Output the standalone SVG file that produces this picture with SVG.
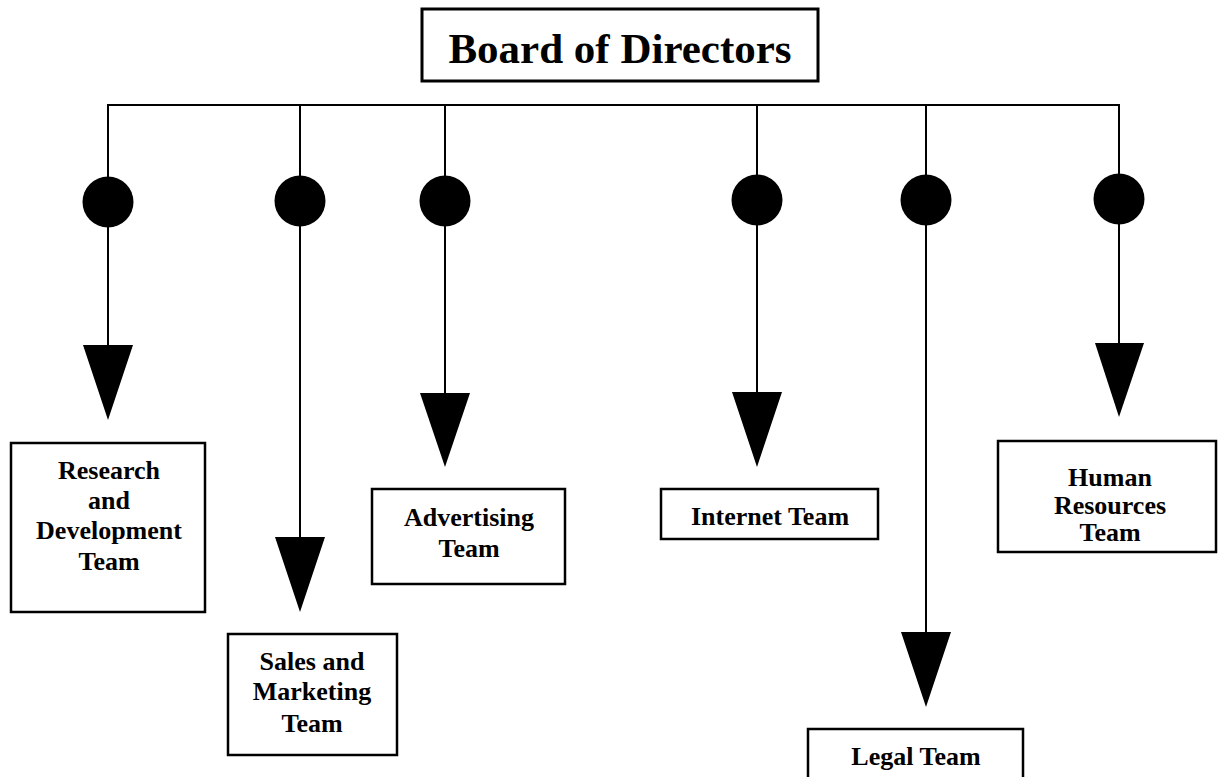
<svg xmlns="http://www.w3.org/2000/svg" width="1222" height="777" viewBox="0 0 1222 777">
<defs>
<style>
.box{fill:#fff;stroke:#000;stroke-width:2.5}
.lbl{font-family:"Liberation Serif","Times New Roman",serif;font-weight:bold;font-size:26px;fill:#000;text-anchor:middle}
.title{font-family:"Liberation Serif","Times New Roman",serif;font-weight:bold;font-size:43px;fill:#000;text-anchor:middle}
.ln{stroke:#000;stroke-width:2;fill:none}
.dot{fill:#000}
.tri{fill:#000}
</style>
</defs>
<rect width="1222" height="777" fill="#fff"/>
<g id="connectors">
<line class="ln" x1="107" y1="105" x2="1120" y2="105"/>
<line class="ln" x1="108" y1="105" x2="108" y2="346"/>
<line class="ln" x1="300" y1="105" x2="300" y2="538"/>
<line class="ln" x1="445" y1="105" x2="445" y2="394"/>
<line class="ln" x1="757" y1="105" x2="757" y2="393"/>
<line class="ln" x1="926" y1="105" x2="926" y2="633"/>
<line class="ln" x1="1119" y1="105" x2="1119" y2="344"/>
<circle class="dot" cx="108" cy="202" r="25.5"/>
<circle class="dot" cx="300" cy="201" r="25.5"/>
<circle class="dot" cx="445" cy="201" r="25.5"/>
<circle class="dot" cx="757" cy="200" r="25.5"/>
<circle class="dot" cx="926" cy="200" r="25.5"/>
<circle class="dot" cx="1119" cy="199" r="25.5"/>
<polygon class="tri" points="83,345 133,345 108,420"/>
<polygon class="tri" points="275,537 325,537 300,612"/>
<polygon class="tri" points="420,393 470,393 445,467"/>
<polygon class="tri" points="732,392 782,392 757,467"/>
<polygon class="tri" points="901,632 951,632 926,707"/>
<polygon class="tri" points="1095,343 1144,343 1119,417"/>
</g>
<g id="board">
<rect class="box" x="422" y="9" width="396" height="72" style="stroke-width:3"/>
<text class="title" x="620" y="63">Board of Directors</text>
</g>
<g id="rnd">
<rect class="box" x="11" y="443" width="194" height="169"/>
<text class="lbl" x="109" y="479">Research</text>
<text class="lbl" x="109" y="509">and</text>
<text class="lbl" x="109" y="539">Development</text>
<text class="lbl" x="109" y="570">Team</text>
</g>
<g id="sales">
<rect class="box" x="228" y="634" width="169" height="121"/>
<text class="lbl" x="312" y="670">Sales and</text>
<text class="lbl" x="312" y="700">Marketing</text>
<text class="lbl" x="312" y="732">Team</text>
</g>
<g id="advertising">
<rect class="box" x="372" y="489" width="193" height="95"/>
<text class="lbl" x="469" y="526">Advertising</text>
<text class="lbl" x="469" y="557">Team</text>
</g>
<g id="internet">
<rect class="box" x="661" y="489" width="217" height="50"/>
<text class="lbl" x="770" y="525">Internet Team</text>
</g>
<g id="legal">
<rect class="box" x="808" y="729" width="215" height="60"/>
<text class="lbl" x="916" y="765">Legal Team</text>
</g>
<g id="hr">
<rect class="box" x="998" y="441" width="218" height="111"/>
<text class="lbl" x="1110" y="486">Human</text>
<text class="lbl" x="1110" y="514">Resources</text>
<text class="lbl" x="1110" y="541">Team</text>
</g>
</svg>
